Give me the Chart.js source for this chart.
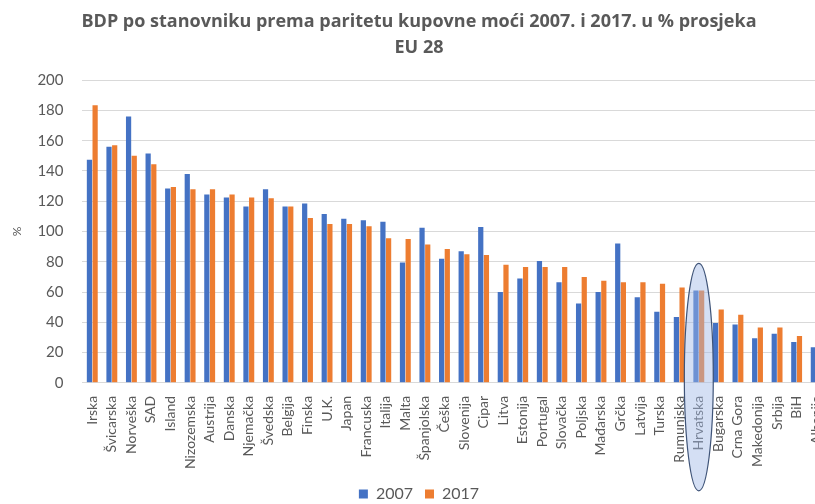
<!DOCTYPE html>
<html lang="hr">
<head>
    <meta charset="UTF-8">
    <title>BDP po stanovniku</title>
    <script src="https://cdn.jsdelivr.net/npm/chart.js"></script>
    <style>
        body { margin: 0; overflow: hidden; background: #fff; }
        #wrap { width: 838px; height: 504px; }
    </style>
</head>
<body>
    <div id="wrap"><canvas id="chart"></canvas></div>

    <script>
        const zemlje = ['Irska', 'Švicarska', 'Norveška', 'SAD', 'Island', 'Nizozemska', 'Austrija', 'Danska',
            'Njemačka', 'Švedska', 'Belgija', 'Finska', 'U.K.', 'Japan', 'Francuska', 'Italija', 'Malta',
            'Španjolska', 'Češka', 'Slovenija', 'Cipar', 'Litva', 'Estonija', 'Portugal', 'Slovačka', 'Poljska',
            'Mađarska', 'Grčka', 'Latvija', 'Turska', 'Rumunjska', 'Hrvatska', 'Bugarska', 'Crna Gora',
            'Makedonija', 'Srbija', 'BiH', 'Albanija'];

        const bdp2007 = [147.5, 156, 176, 151.5, 128.5, 138, 124.5, 122.5, 116.5, 128, 116.5, 118.5, 111.5,
            108.5, 107.5, 106.5, 79.5, 102.5, 82, 87, 103, 60, 69, 80.5, 66.5, 52.5, 60, 92, 56.5, 47, 43.5,
            61, 39.5, 38.5, 29.5, 32.5, 27, 23.5];

        const bdp2017 = [183.5, 157, 150, 144.5, 129.5, 128, 128, 124.5, 122.5, 122, 116.5, 109, 105, 105,
            103.5, 95.5, 95, 91.5, 88.5, 85, 84.5, 78, 76.5, 76.5, 76.5, 70, 67.5, 66.5, 66.5, 65.5, 63,
            61, 48.5, 45, 36.5, 36.5, 31, 30];

        const oznaka = 'Hrvatska';

        const sivo = '#595959';
        const font = 'Lato, "Open Sans", sans-serif';

        // elipsa oko Hrvatske
        const elipsa = {
            id: 'elipsa',
            afterDatasetsDraw(chart) {
                const x = chart.scales.x;
                const y = chart.scales.y;
                const i = zemlje.indexOf(oznaka);
                const cx = x.getPixelForValue(i);
                const top = y.getPixelForValue(79);
                const bottom = chart.chartArea.bottom + 108;
                const rx = (x.getPixelForValue(1) - x.getPixelForValue(0)) * 0.74;
                const ctx = chart.ctx;
                ctx.save();
                ctx.beginPath();
                ctx.ellipse(cx, (top + bottom) / 2, rx, (bottom - top) / 2, 0, 0, Math.PI * 2);
                ctx.fillStyle = 'rgba(160, 185, 230, 0.45)';
                ctx.fill();
                ctx.lineWidth = 1.2;
                ctx.strokeStyle = '#3f5478';
                ctx.stroke();
                ctx.restore();
            }
        };

        Chart.defaults.font.family = font;
        Chart.defaults.color = sivo;

        new Chart(document.getElementById('chart'), {
            type: 'bar',
            data: {
                labels: zemlje,
                datasets: [
                    { label: '2007', data: bdp2007, backgroundColor: '#4472C4' },
                    { label: '2017', data: bdp2017, backgroundColor: '#ED7D31' }
                ]
            },
            options: {
                responsive: true,
                maintainAspectRatio: false,
                animation: false,
                datasets: { bar: { categoryPercentage: 0.58, barPercentage: 0.92 } },
                layout: { padding: { left: 0, right: 0, top: 0, bottom: -8 } },
                scales: {
                    x: {
                        grid: { display: false },
                        border: { display: true, color: '#d9d9d9' },
                        ticks: { autoSkip: false, maxRotation: 90, minRotation: 90, padding: 5,
                            font: { size: 14 }, color: sivo }
                    },
                    y: {
                        min: 0,
                        max: 200,
                        ticks: { stepSize: 20, padding: 19, font: { size: 15 }, color: sivo },
                        grid: { color: '#d9d9d9', drawTicks: false },
                        border: { display: false },
                        title: { display: true, text: '%', font: { size: 12 }, color: sivo,
                            padding: { top: 10, bottom: -6 } }
                    }
                },
                plugins: {
                    title: {
                        display: true,
                        text: ['BDP po stanovniku prema paritetu kupovne moći 2007. i 2017. u % prosjeka', 'EU 28'],
                        font: { family: '"Open Sans", sans-serif', size: 18, weight: 'bold', lineHeight: 1.45 },
                        color: sivo,
                        padding: { top: 9, bottom: 19 }
                    },
                    legend: {
                        position: 'bottom',
                        labels: { boxWidth: 9, boxHeight: 9, font: { size: 16 }, color: sivo, padding: 12 }
                    },
                    tooltip: { enabled: false }
                }
            },
            plugins: [elipsa]
        });
    </script>
</body>
</html>
